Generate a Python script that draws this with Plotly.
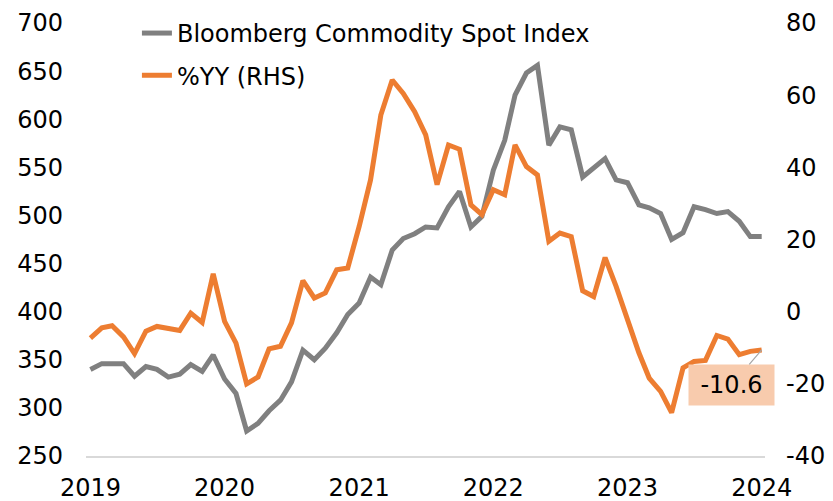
"""Bloomberg Commodity Spot Index and its year-on-year change."""

import pandas as pd
import plotly.graph_objects as go


MONTHS = pd.date_range("2019-01-01", "2024-01-01", freq="MS")

INDEX_LEVEL = [
    340, 346, 346, 346, 333, 343, 340, 332, 335, 345, 338, 355,
    330, 315, 276, 284, 297, 308, 327, 360, 350, 362, 378, 397,
    409, 436, 428, 464, 476, 481, 488, 487, 509, 525, 488, 499,
    547, 578, 625, 648, 656, 573, 592, 589, 540, 549, 559, 537,
    534, 511, 508, 502, 475, 482, 509, 506, 502, 504, 494, 478,
    478,
]

INDEX_YY = [
    -7.3, -4.5, -3.9, -7.0, -11.6, -5.4, -4.1, -4.5, -5.2, -0.4, -3.0, 10.5,
    -2.7, -8.7, -20.0, -18.1, -10.3, -9.6, -3.1, 8.6, 3.8, 5.2, 11.6, 12.1,
    23.6, 36.5, 54.5, 64.2, 60.5, 55.4, 49.0, 35.2, 46.2, 45.0, 29.6, 26.9,
    33.8, 32.4, 46.2, 40.2, 37.9, 19.5, 21.8, 20.8, 5.8, 4.2, 15.0, 7.0,
    -2.2, -11.4, -18.4, -22.1, -28.0, -15.6, -13.8, -13.5, -6.6, -7.6, -11.9, -11.0,
    -10.6,
]

YEAR_TICKS = ["2019", "2020", "2021", "2022", "2023", "2024"]
RHS_TICKS = [-40, -20, 0, 20, 40, 60, 80]
RHS_LABELS = ["-40", "-20", "0", "20", "40", "60", "80"]

GRAY = "#808080"
ORANGE = "#ed7d31"
FONT = "DejaVu Sans"

# the page adds an 8px body margin, so the figure is drawn 8px smaller
FIG_W = 825
FIG_H = 493


def main():
    """Build the chart and write it out."""
    fig = go.Figure()
    fig.add_trace(go.Scatter(
        x=MONTHS, y=INDEX_LEVEL, name="Bloomberg Commodity Spot Index",
        mode="lines", line=dict(color=GRAY, width=5), legendgroup="a",
    ))
    fig.add_trace(go.Scatter(
        x=MONTHS, y=INDEX_YY, name="%YY (RHS)", yaxis="y2",
        mode="lines", line=dict(color=ORANGE, width=5), legendgroup="b",
    ))

    fig.add_annotation(
        x=MONTHS[-1], y=INDEX_YY[-1], yref="y2", text=f"{INDEX_YY[-1]:.1f}",
        showarrow=True, arrowhead=0, arrowwidth=1.2, arrowcolor="#a6a6a6",
        ax=-30, ay=35, bgcolor="#f8cbad", borderpad=1, width=83, height=38,
        font=dict(family=FONT, size=24, color="black"),
    )

    tick_dates = [f"{y}-01-01" for y in YEAR_TICKS]
    fig.update_layout(
        width=FIG_W, height=FIG_H,
        margin=dict(l=78, r=68, t=15, b=45, autoexpand=False),
        plot_bgcolor="white", paper_bgcolor="white",
        font=dict(family=FONT, size=24, color="black"),
        showlegend=True,
        legend=dict(
            x=0.075, y=0.994, xanchor="left", yanchor="top", yref="container",
            bgcolor="rgba(0,0,0,0)", tracegroupgap=8,
            font=dict(family=FONT, size=24),
        ),
        xaxis=dict(
            range=["2018-12-20", "2024-01-10"],
            tickvals=tick_dates, ticktext=YEAR_TICKS,
            showgrid=False, zeroline=False,
            showline=True, linecolor="#d9d9d9", linewidth=2,
            ticks="", ticklabelstandoff=9, automargin=False,
        ),
        yaxis=dict(
            range=[250, 700], dtick=50, showgrid=False, zeroline=False,
            showline=False, ticks="", ticklabelstandoff=22, automargin=False,
        ),
        yaxis2=dict(
            range=[-40, 80], tickvals=RHS_TICKS, ticktext=RHS_LABELS,
            overlaying="y", side="right",
            showgrid=False, zeroline=False, showline=False, ticks="",
            ticklabelstandoff=20, automargin=False,
        ),
    )

    fig.write_html("out.html")


if __name__ == "__main__":
    main()
